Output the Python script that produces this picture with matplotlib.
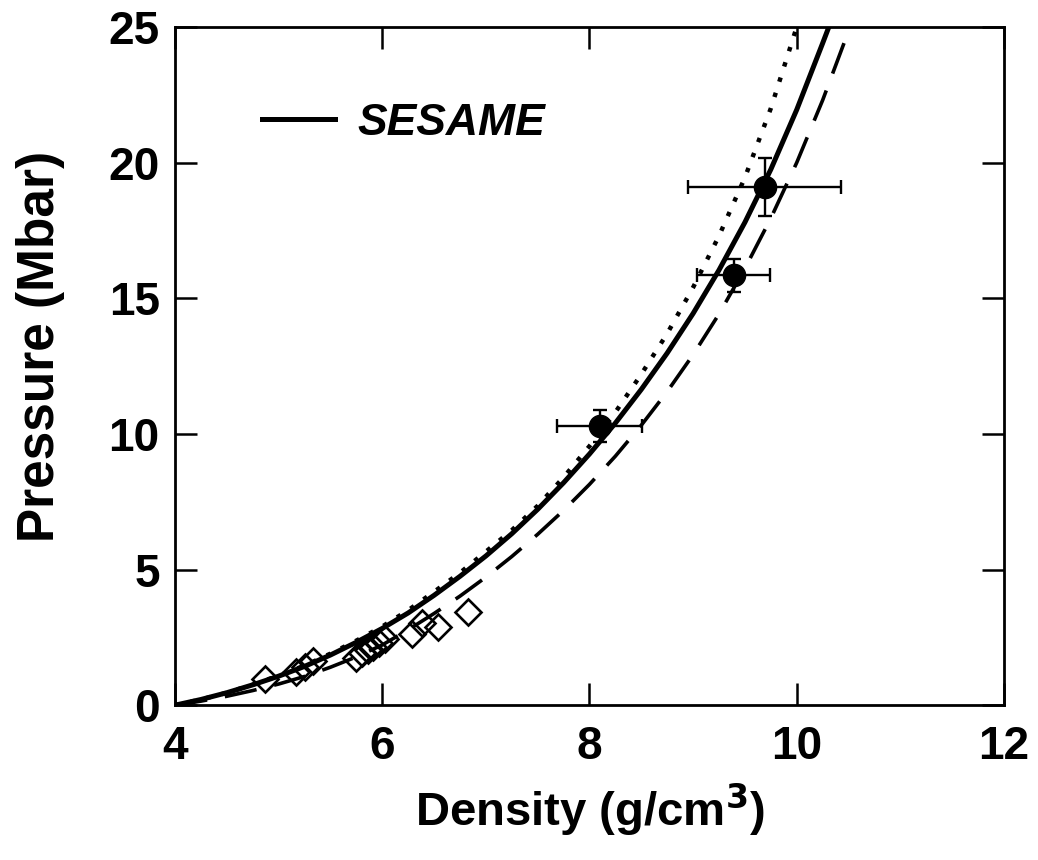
import matplotlib
matplotlib.use("Agg")
import matplotlib.pyplot as plt
from matplotlib.lines import Line2D

plt.rcParams['font.family'] = ['Liberation Sans', 'DejaVu Sans']
plt.rcParams['font.weight'] = 'bold'

# SESAME (solid) curve
sesame_rho = [4.0, 4.25, 4.5, 4.75, 5.0, 5.25, 5.5, 5.75, 6.0, 6.25, 6.5, 6.75, 7.0, 7.25,
              7.5, 7.75, 8.0, 8.25, 8.5, 8.75, 9.0, 9.25, 9.5, 9.75, 10.0, 10.25, 10.4]
sesame_p = [0.0, 0.21, 0.46, 0.75, 1.07, 1.43, 1.85, 2.32, 2.83, 3.40, 4.05, 4.75, 5.5, 6.32,
            7.22, 8.20, 9.26, 10.40, 11.64, 12.98, 14.44, 16.04, 17.8, 19.75, 21.95, 24.4, 25.9]

# dotted curve
dot_rho = [4.0, 4.25, 4.5, 4.75, 5.0, 5.25, 5.5, 5.75, 6.0, 6.25, 6.5, 6.75, 7.0, 7.25,
           7.5, 7.75, 8.0, 8.25, 8.5, 8.75, 9.0, 9.25, 9.5, 9.75, 10.0, 10.05]
dot_p = [0.0, 0.21, 0.46, 0.76, 1.09, 1.46, 1.9, 2.38, 2.9, 3.5, 4.18, 4.88, 5.66, 6.45,
         7.35, 8.4, 9.55, 10.8, 12.2, 13.7, 15.4, 17.3, 19.45, 22.0, 25.0, 25.6]

# dashed curve
dash_rho = [4.0, 4.25, 4.5, 4.75, 5.0, 5.25, 5.5, 5.75, 6.0, 6.25, 6.5, 6.75, 7.0, 7.25,
            7.5, 7.75, 8.0, 8.25, 8.5, 8.75, 9.0, 9.25, 9.5, 9.75, 10.0, 10.25, 10.5, 10.6]
dash_p = [0.0, 0.15, 0.33, 0.54, 0.78, 1.06, 1.40, 1.78, 2.22, 2.78, 3.38, 4.02, 4.72, 5.48,
          6.30, 7.18, 8.14, 9.18, 10.32, 11.56, 12.92, 14.42, 16.1, 17.95, 20.0, 22.3, 24.85, 25.9]

# experimental points (filled circles) with error bars
exp_rho = [8.10, 9.39, 9.69]
exp_p = [10.3, 15.85, 19.1]
exp_rho_err = [0.41, 0.35, 0.74]
exp_p_err = [0.6, 0.6, 1.08]

# open diamonds
dia_rho = [4.87, 5.17, 5.25, 5.33, 5.75, 5.80, 5.86, 5.91, 5.97, 6.03, 6.29, 6.38, 6.54, 6.83]
dia_p = [0.95, 1.22, 1.40, 1.62, 1.75, 1.92, 2.05, 2.15, 2.30, 2.45, 2.62, 3.03, 2.88, 3.42]

x_ticks = [4, 6, 8, 10, 12]
y_ticks = [0, 5, 10, 15, 20, 25]

fig = plt.figure(figsize=(10.38, 8.6), dpi=100)
ax = fig.add_axes([0.1686, 0.180, 0.7986, 0.7886])

ax.plot(sesame_rho, sesame_p, color='black', lw=3.6, solid_capstyle='butt',
        solid_joinstyle='round', zorder=3)
ax.plot(dot_rho, dot_p, color='black', lw=3.2, linestyle=(0, (1.0, 2.6)), zorder=3)
ax.plot(dash_rho, dash_p, color='black', lw=2.6, linestyle=(0, (9, 5)), zorder=3)

ax.plot(dia_rho, dia_p, linestyle='none', marker='D', ms=13.5, mfc='none', mec='black',
        mew=1.9, zorder=4)

ax.errorbar(exp_rho, exp_p, xerr=exp_rho_err, yerr=exp_p_err, fmt='o', color='black',
            ms=16, elinewidth=1.7, capsize=5, capthick=1.7, zorder=5)

ax.set_xlim(4, 12)
ax.set_ylim(0, 25)
ax.set_xticks(x_ticks)
ax.set_yticks(y_ticks)
ax.tick_params(direction='in', length=16, width=1.8, top=True, right=True)
ax.tick_params(axis='x', pad=14, labelsize=33)
ax.tick_params(axis='y', pad=11, labelsize=33)
for s in ax.spines.values():
    s.set_linewidth(2.0)

ax.set_xlabel('Density (g/cm$^\\mathbf{3}$)', fontsize=34, fontweight='bold')
ax.set_ylabel('Pressure (Mbar)', fontsize=37, fontweight='bold')
ax.xaxis.set_label_coords(0.5, -0.112)
ax.yaxis.set_label_coords(-0.133, 0.529)

handle = Line2D([], [], color='black', lw=3.6)
leg = ax.legend([handle], ['SESAME'], loc='center left', bbox_to_anchor=(0.105, 0.858),
                frameon=False, handlelength=1.65, handletextpad=0.5, borderpad=0,
                borderaxespad=0, prop={'size': 32, 'weight': 'bold', 'style': 'italic'})

fig.savefig('out.png', dpi=100)
